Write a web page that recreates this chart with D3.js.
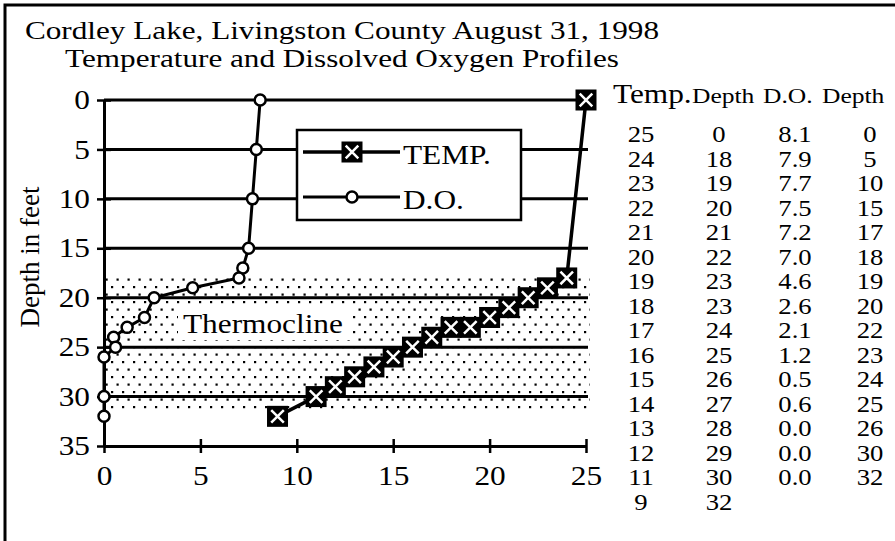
<!DOCTYPE html>
<html lang="en">
<head>
  <meta charset="UTF-8">
  <title>Cordley Lake profiles</title>
  <style>
    body { margin: 0; background: #fff; }
    svg { display: block; }
  </style>
</head>
<body>
  <svg width="895" height="541" class="svgs"></svg>
  <script src="https://cdn.jsdelivr.net/npm/d3@7/dist/d3.min.js"></script>
  <script>
    const tempVals   = [25, 24, 23, 22, 21, 20, 19, 18, 17, 16, 15, 14, 13, 12, 11, 9]
    const tempDepths = [0, 18, 19, 20, 21, 22, 23, 23, 24, 25, 26, 27, 28, 29, 30, 32]
    const doVals     = [8.1, 7.9, 7.7, 7.5, 7.2, 7.0, 4.6, 2.6, 2.1, 1.2, 0.5, 0.6, 0.0, 0.0, 0.0]
    const doDepths   = [0, 5, 10, 15, 17, 18, 19, 20, 22, 23, 24, 25, 26, 30, 32]
    const xTicks = [0, 5, 10, 15, 20, 25]
    const yTicks = [0, 5, 10, 15, 20, 25, 30, 35]
    const gridDepths = [0, 5, 10, 15, 20, 25, 30]
    const thermocline = [17.8, 31.6]

    const FONT = '"Liberation Serif", "Times New Roman", serif'
    const SX = 1.16   // glyphs in the picture are a bit wider than tall

    const mainsvg = d3.select('.svgs')
    const xScale = d3.scaleLinear().domain([0, 25]).range([104, 586])
    const yScale = d3.scaleLinear().domain([0, 35]).range([100, 446])

    const defs = mainsvg.append('defs')
    const pat = defs.append('pattern')
      .attr('id', 'dots')
      .attr('width', 11).attr('height', 15)
      .attr('patternUnits', 'userSpaceOnUse')
    pat.append('rect').attr('x', 1).attr('y', 1).attr('width', 2.2).attr('height', 2.2).attr('fill', '#000')
    pat.append('rect').attr('x', 6.5).attr('y', 8.5).attr('width', 2.2).attr('height', 2.2).attr('fill', '#000')

    function label(parent, txt, x, y, size, anchor, sx) {
      return parent.append('text')
        .text(txt)
        .attr('font-family', FONT)
        .attr('font-size', size)
        .attr('text-anchor', anchor || 'start')
        .attr('transform', `translate(${x},${y}) scale(${sx || SX},1)`)
    }

    // frame (only left and top edges show)
    mainsvg.append('path')
      .attr('d', 'M5,541 L5,5 L895,5')
      .attr('fill', 'none').attr('stroke', '#000').attr('stroke-width', 3)

    // titles
    label(mainsvg, 'Cordley Lake, Livingston County August 31, 1998', 342, 39, 26, 'middle', 1.2)
    label(mainsvg, 'Temperature and Dissolved Oxygen Profiles', 342, 67, 26, 'middle', 1.2)

    // thermocline band
    const g = mainsvg.append('g')
    g.append('rect')
      .attr('x', xScale(0)).attr('width', xScale(25) - xScale(0) + 4)
      .attr('y', yScale(thermocline[0]))
      .attr('height', yScale(thermocline[1]) - yScale(thermocline[0]))
      .attr('fill', 'url(#dots)')
    g.append('rect')
      .attr('x', 178).attr('y', 305).attr('width', 172).attr('height', 35)
      .attr('fill', '#fff')
    label(g, 'Thermocline', 183, 333, 27)

    // horizontal grid lines
    g.selectAll('.grid').data(gridDepths).join('line')
      .attr('class', 'grid')
      .attr('x1', xScale(0)).attr('x2', xScale(25) + 2)
      .attr('y1', d => yScale(d)).attr('y2', d => yScale(d))
      .attr('stroke', '#000').attr('stroke-width', 3)

    // axes
    const yAxis = d3.axisLeft(yScale).tickValues(yTicks).tickSize(7).tickSizeOuter(0).tickPadding(7)
    const yg = g.append('g').attr('transform', `translate(${xScale(0)},0)`).call(yAxis)
    const xAxis = d3.axisBottom(xScale).tickValues(xTicks).tickSize(7).tickSizeOuter(0).tickPadding(13)
    const xg = g.append('g').attr('transform', `translate(0,${yScale(35)})`).call(xAxis)

    ;[yg, xg].forEach(ax => {
      ax.attr('font-family', FONT).attr('font-size', 27)
      ax.select('.domain').attr('stroke-width', 3)
      ax.selectAll('.tick line').attr('stroke-width', 2.5)
      ax.selectAll('.tick text').attr('fill', '#000').each(function () {
        const t = d3.select(this)
        t.attr('x', (+t.attr('x') || 0) / SX).attr('transform', `scale(${SX},1)`)
      })
    })
    yg.selectAll('.tick line').attr('x1', 7)
    xg.selectAll('.tick line').attr('y1', -7)

    label(xg, 'Temperature (\u00B0C) or Dissolved Oxygen (mg/L)', 22, 74, 27)
    mainsvg.append('text')
      .text('Depth in feet')
      .attr('font-family', FONT).attr('font-size', 27)
      .attr('text-anchor', 'middle')
      .attr('transform', 'translate(39,257) rotate(-90)')

    // series
    const tempData = tempVals.map((v, i) => ({ v, depth: tempDepths[i] }))
    const doData = doVals.map((v, i) => ({ v, depth: doDepths[i] }))
    const line = d3.line().x(d => xScale(d.v)).y(d => yScale(d.depth))

    g.append('path').datum(doData)
      .attr('d', line).attr('fill', 'none')
      .attr('stroke', '#000').attr('stroke-width', 3)
    g.append('path').datum(tempData)
      .attr('d', line).attr('fill', 'none')
      .attr('stroke', '#000').attr('stroke-width', 3.5)

    function xMark(sel, size) {
      const h = size / 2, a = size * 0.3
      sel.append('rect').attr('x', -h).attr('y', -h).attr('width', size).attr('height', size).attr('fill', '#000')
      sel.append('path').attr('d', `M${-a},${-a}L${a},${a}M${-a},${a}L${a},${-a}`)
        .attr('stroke', '#fff').attr('stroke-width', 2.5)
    }

    g.selectAll('.do-pt').data(doData).join('circle')
      .attr('class', 'do-pt')
      .attr('cx', d => xScale(d.v)).attr('cy', d => yScale(d.depth))
      .attr('r', 5.5).attr('fill', '#fff').attr('stroke', '#000').attr('stroke-width', 2.5)

    g.selectAll('.t-pt').data(tempData).join('g')
      .attr('class', 't-pt')
      .attr('transform', d => `translate(${xScale(d.v)},${yScale(d.depth)})`)
      .each(function () { xMark(d3.select(this), 21) })

    // legend
    const lg = mainsvg.append('g')
    lg.append('rect').attr('x', 297).attr('y', 130).attr('width', 224).attr('height', 90)
      .attr('fill', '#fff').attr('stroke', '#000').attr('stroke-width', 2.5)
    lg.append('line').attr('x1', 303).attr('x2', 400).attr('y1', 152).attr('y2', 152)
      .attr('stroke', '#000').attr('stroke-width', 3.5)
    xMark(lg.append('g').attr('transform', 'translate(352,152)'), 21)
    label(lg, 'TEMP.', 403, 164, 27)
    lg.append('line').attr('x1', 303).attr('x2', 400).attr('y1', 197).attr('y2', 197)
      .attr('stroke', '#000').attr('stroke-width', 3)
    lg.append('circle').attr('cx', 352).attr('cy', 197).attr('r', 5.5)
      .attr('fill', '#fff').attr('stroke', '#000').attr('stroke-width', 2.5)
    label(lg, 'D.O.', 403, 209, 27)

    // side table
    const tb = mainsvg.append('g')
    label(tb, 'Temp.', 613, 103, 27)
    label(tb, 'Depth', 692, 103, 22)
    label(tb, 'D.O.', 763, 103, 22)
    label(tb, 'Depth', 822, 103, 22)
    const row = i => 142 + i * 24.5
    tempVals.forEach((v, i) => label(tb, String(v), 641, row(i), 23, 'middle'))
    tempDepths.forEach((v, i) => label(tb, String(v), 719, row(i), 23, 'middle'))
    doVals.forEach((v, i) => label(tb, v.toFixed(1), 795, row(i), 23, 'middle'))
    doDepths.forEach((v, i) => label(tb, String(v), 870, row(i), 23, 'middle'))
  </script>
</body>
</html>
